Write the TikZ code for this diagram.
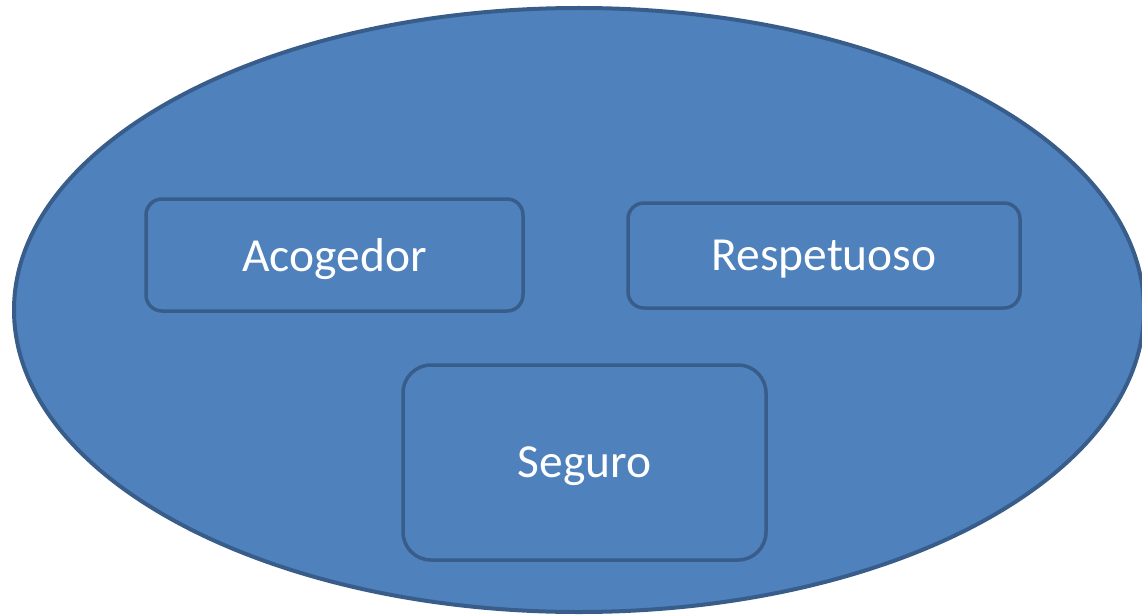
\documentclass[tikz,border=0pt]{standalone}
\usepackage{fontspec}
\setmainfont{Carlito}
\usetikzlibrary{shapes.geometric}
\definecolor{fillblue}{HTML}{4F81BD}
\definecolor{lineblue}{HTML}{385D8A}
\begin{document}
\begin{tikzpicture}[x=1pt,y=-1pt,
  oval/.style={ellipse, draw=lineblue, fill=fillblue, line width=4pt, inner sep=0pt},
  valuebox/.style={rectangle, rounded corners=16pt, draw=lineblue, fill=fillblue, line width=3.5pt,
    text=white, text depth=0pt, font=\fontsize{47.5}{56}\selectfont}]
\useasboundingbox (0,0) rectangle (1142,615);
\node [oval, minimum width=1130pt, minimum height=604pt] (E) at (579,310) {};
\node [valuebox, minimum width=377pt, minimum height=112pt] (A) at (334.5,255) {Acogedor};
\node [valuebox, minimum width=392pt, minimum height=105pt] (R) at (824,255.5) {Respetuoso};
\node [valuebox, rounded corners=28pt, minimum width=363pt, minimum height=195pt] (S) at (584.5,462.5) {Seguro};
\end{tikzpicture}
\end{document}
